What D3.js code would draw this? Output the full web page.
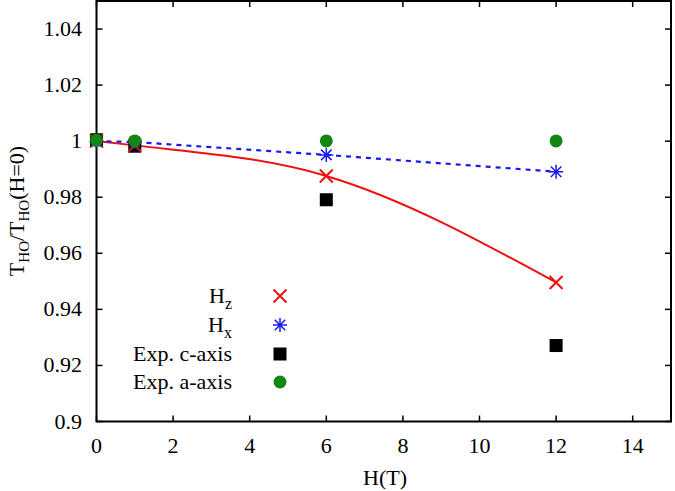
<!DOCTYPE html>
<html><head><meta charset="utf-8">
<script src="https://cdn.jsdelivr.net/npm/d3@7"></script>
<style>body{margin:0;background:#fff}svg{display:block}text{font-family:"Liberation Serif","DejaVu Serif",serif;fill:#000}</style>
</head><body><svg id="c" width="675" height="491"></svg>
<script>
const hzX = [0, 1, 6, 12];
const hzY = [1.0, 0.9985, 0.9876, 0.9496];
const hxX = [0, 1, 6, 12];
const hxY = [1.0, 0.9997, 0.9951, 0.9891];
const expCX = [0, 1, 6, 12];
const expCY = [1.0005, 0.9982, 0.9791, 0.9271];
const expAX = [0, 1, 6, 12];
const expAY = [1.0003, 1.0001, 1.0001, 1.0001];
const xTicks = [0, 2, 4, 6, 8, 10, 12, 14];
const yTicks = [0.9, 0.92, 0.94, 0.96, 0.98, 1.0, 1.02, 1.04];
const yTickLabels = ["0.9", "0.92", "0.94", "0.96", "0.98", "1", "1.02", "1.04"];
const legendLabels = [["H","z"],["H","x"],["Exp. c-axis",""],["Exp. a-axis",""]];

const svg = d3.select("#c");
const L = 96.5, R = 671, T = 1, B = 421.5;
const x = d3.scaleLinear().domain([0, 15]).range([L, R]);
const y = d3.scaleLinear().domain([0.9, 1.05]).range([B, T]);
const FS = 22;

svg.append("rect").attr("x", L).attr("y", T).attr("width", R - L).attr("height", B - T)
  .attr("fill", "none").attr("stroke", "#000").attr("stroke-width", 2);

const tl = 6;
xTicks.forEach(v => {
  svg.append("line").attr("x1", x(v)).attr("x2", x(v)).attr("y1", B).attr("y2", B - tl).attr("stroke", "#000").attr("stroke-width", 1.5);
  svg.append("line").attr("x1", x(v)).attr("x2", x(v)).attr("y1", T).attr("y2", T + tl).attr("stroke", "#000").attr("stroke-width", 1.5);
  svg.append("text").attr("x", x(v)).attr("y", 453).attr("text-anchor", "middle").attr("font-size", FS).text(v);
});
yTicks.forEach((v, i) => {
  svg.append("line").attr("x1", L).attr("x2", L + tl).attr("y1", y(v)).attr("y2", y(v)).attr("stroke", "#000").attr("stroke-width", 1.5);
  svg.append("line").attr("x1", R).attr("x2", R - tl).attr("y1", y(v)).attr("y2", y(v)).attr("stroke", "#000").attr("stroke-width", 1.5);
  svg.append("text").attr("x", 82).attr("y", y(v) + 7).attr("text-anchor", "end").attr("font-size", FS).text(yTickLabels[i]);
});

svg.append("text").attr("x", 385).attr("y", 485).attr("text-anchor", "middle").attr("font-size", FS).text("H(T)");
const yl = svg.append("text").attr("transform", "translate(24,211) rotate(-90)").attr("text-anchor", "middle").attr("font-size", FS);
yl.append("tspan").text("T");
yl.append("tspan").attr("dy", 5).attr("font-size", 15).text("HO");
yl.append("tspan").attr("dy", -5).text("/T");
yl.append("tspan").attr("dy", 5).attr("font-size", 15).text("HO");
yl.append("tspan").attr("dy", -5).text("(H=0)");

const g = svg.append("g");
const hz = hzX.map((d, i) => [d, hzY[i]]);
const hx = hxX.map((d, i) => [d, hxY[i]]);
g.append("path").attr("d", d3.line().x(d => x(d[0])).y(d => y(d[1])).curve(d3.curveMonotoneX)(hz))
  .attr("fill", "none").attr("stroke", "#ee1111").attr("stroke-width", 2);
g.append("path").attr("d", d3.line().x(d => x(d[0])).y(d => y(d[1]))(hx))
  .attr("fill", "none").attr("stroke", "#1a1aee").attr("stroke-width", 2.2).attr("stroke-dasharray", "5,5");

function cross(sel, cx, cy, s, col) {
  sel.append("path").attr("d", `M${cx-s},${cy-s}L${cx+s},${cy+s}M${cx-s},${cy+s}L${cx+s},${cy-s}`)
    .attr("stroke", col).attr("stroke-width", 2).attr("fill", "none");
}
function star(sel, cx, cy, s, col) {
  const d = `M${cx-s},${cy}L${cx+s},${cy}M${cx},${cy-s}L${cx},${cy+s}M${cx-s*0.75},${cy-s*0.75}L${cx+s*0.75},${cy+s*0.75}M${cx-s*0.75},${cy+s*0.75}L${cx+s*0.75},${cy-s*0.75}`;
  sel.append("path").attr("d", d).attr("stroke", col).attr("stroke-width", 1.5).attr("fill", "none");
}
function square(sel, cx, cy, s, col) {
  sel.append("rect").attr("x", cx - s).attr("y", cy - s).attr("width", 2 * s).attr("height", 2 * s).attr("fill", col);
}
function dot(sel, cx, cy, r, col) {
  sel.append("circle").attr("cx", cx).attr("cy", cy).attr("r", r).attr("fill", col);
}

expCX.forEach((v, i) => square(g, x(v), y(expCY[i]), 6.5, "#000"));
hzX.forEach((v, i) => cross(g, x(v), y(hzY[i]), 6.5, "#ee1111"));
hxX.forEach((v, i) => star(g, x(v), y(hxY[i]), 7, "#1a1aee"));
expAX.forEach((v, i) => dot(g, x(v), y(expAY[i]), 6.5, "#118811"));

const ly = [296, 325, 354, 382];
const lx = 232, mx = 280;
legendLabels.forEach((lab, i) => {
  const t = svg.append("text").attr("x", lx).attr("y", ly[i] + 7).attr("text-anchor", "end").attr("font-size", FS);
  t.append("tspan").text(lab[0]);
  if (lab[1]) t.append("tspan").attr("dy", 6).attr("font-size", 16).text(lab[1]);
});
cross(svg, mx, ly[0], 6.5, "#ee1111");
star(svg, mx, ly[1], 7, "#1a1aee");
square(svg, mx, ly[2], 6.5, "#000");
dot(svg, mx, ly[3], 6.5, "#118811");
</script></body></html>
